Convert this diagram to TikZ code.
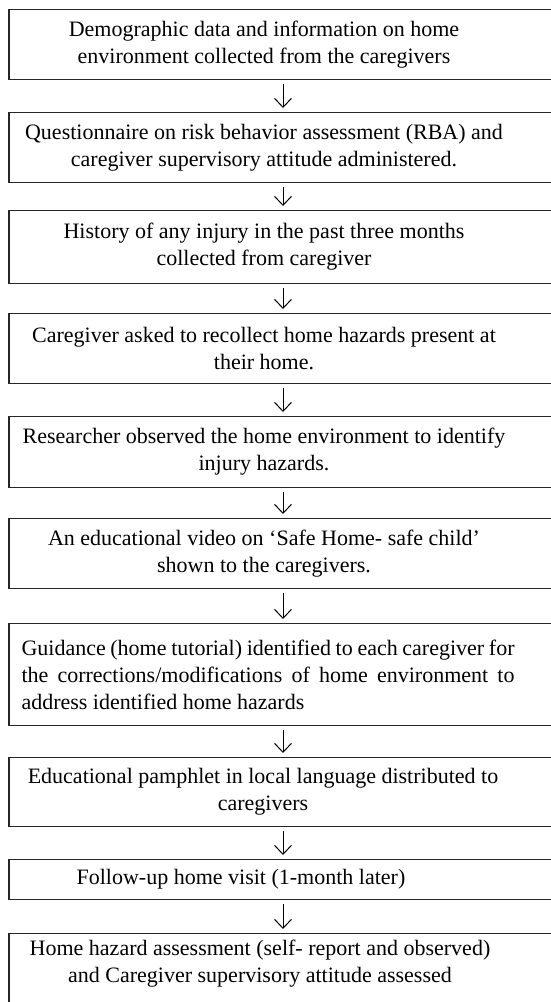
\documentclass[tikz,border=0pt]{standalone}
\usepackage{fontspec}
\setmainfont{Liberation Serif}
\usetikzlibrary{arrows.meta}
\begin{document}
\begin{tikzpicture}[x=1pt,y=-1pt,
  box/.style={draw=black!85, line width=1.1pt, minimum width=548pt, inner sep=0pt, anchor=north},
  txt/.style={font=\fontsize{22}{27}\selectfont, align=center, inner sep=0pt},
  arr/.style={-{Straight Barb[length=9pt,width=17pt]}, line width=1pt, shorten <=4pt, shorten >=4pt}]
\useasboundingbox (0,0) rectangle (551,1002);
\node[box, minimum height=70pt] (b1) at (283,9) {};
\node[box, minimum height=70pt] (b2) at (283,112) {};
\node[box, minimum height=73pt] (b3) at (283,210) {};
\node[box, minimum height=70pt] (b4) at (283,313) {};
\node[box, minimum height=71pt] (b5) at (283,416) {};
\node[box, minimum height=70pt] (b6) at (283,518) {};
\node[box, minimum height=102pt] (b7) at (283,623) {};
\node[box, minimum height=69pt] (b8) at (283,757) {};
\node[box, minimum height=40pt] (b9) at (283,859) {};
\node[box, minimum height=80pt] (b10) at (283,933) {};

\node[txt] (t1) at ([xshift=-19pt]b1.center) {Demographic data and information on home\\environment collected from the caregivers};
\node[txt] (t2) at ([xshift=-19pt]b2.center) {Questionnaire on risk behavior assessment (RBA) and\\caregiver supervisory attitude administered.};
\node[txt] (t3) at ([xshift=-19pt]b3.center) {History of any injury in the past three months\\collected from caregiver};
\node[txt] (t4) at ([xshift=-19pt]b4.center) {Caregiver asked to recollect home hazards present at\\their home.};
\node[txt] (t5) at ([xshift=-19pt]b5.center) {Researcher observed the home environment to identify\\injury hazards.};
\node[txt] (t6) at ([xshift=-19pt]b6.center) {An educational video on ‘Safe Home- safe child’\\shown to the caregivers.};
\node[txt, text width=493pt, align=justify] (t7) at ([xshift=-15pt]b7.center) {Guidance (home tutorial) identified to each caregiver for\linebreak the corrections/modifications of home environment to\linebreak address identified home hazards};
\node[txt] (t8) at ([xshift=-20pt]b8.center) {Educational pamphlet in local language distributed to\\caregivers};
\node[txt] (t9) at ([xshift=-42pt]b9.center) {Follow-up home visit (1-month later)};
\node[txt, anchor=north] (t10) at ([xshift=-23pt,yshift=-7pt]b10.north) {Home hazard assessment (self- report and observed)\\and Caregiver supervisory attitude assessed};

\draw[arr] (b1) -- (b2);
\draw[arr] (b2) -- (b3);
\draw[arr] (b3) -- (b4);
\draw[arr] (b4) -- (b5);
\draw[arr] (b5) -- (b6);
\draw[arr] (b6) -- (b7);
\draw[arr] (b7) -- (b8);
\draw[arr] (b8) -- (b9);
\draw[arr] (b9) -- (b10);
\end{tikzpicture}
\end{document}
